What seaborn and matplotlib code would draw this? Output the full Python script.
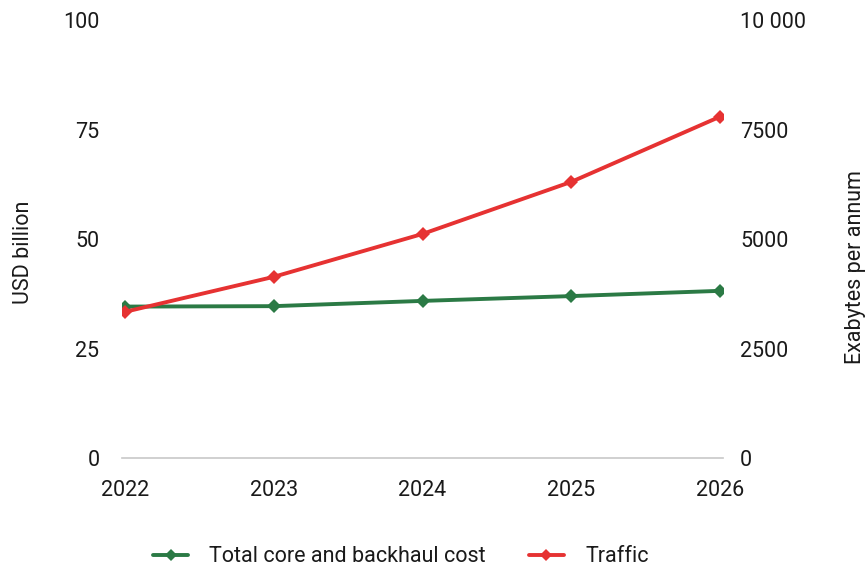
import matplotlib
matplotlib.use("Agg")
import matplotlib.pyplot as plt
import seaborn as sns
import pandas as pd
from matplotlib.ticker import FuncFormatter
from matplotlib.lines import Line2D

years = [2022, 2023, 2024, 2025, 2026]
cost_usd_bn = [34.6, 34.7, 35.9, 37.0, 38.2]
traffic_eb = [3340, 4140, 5120, 6310, 7800]
left_ticks = [0, 25, 50, 75, 100]
right_ticks = [0, 2500, 5000, 7500, 10000]

green = "#2b7a45"
red = "#e63232"

sns.set_theme(style="white")
plt.rcParams["font.family"] = ["Roboto", "DejaVu Sans"]
plt.rcParams["text.color"] = "#1a1a1a"

fs = 15.5
fig = plt.figure(figsize=(8.68, 5.67), dpi=100)
ax = fig.add_axes([121.7 / 868, 1 - 458 / 567, (723.3 - 121.7) / 868, (458 - 20.4) / 567])
ax2 = ax.twinx()

df = pd.DataFrame({"year": years, "cost": cost_usd_bn, "traffic": traffic_eb})

sns.lineplot(data=df, x="year", y="cost", ax=ax, color=green, linewidth=2.8,
             marker="D", markersize=7.5, markeredgewidth=0, zorder=3)
sns.lineplot(data=df, x="year", y="traffic", ax=ax2, color=red, linewidth=2.8,
             marker="D", markersize=7.5, markeredgewidth=0, zorder=3)

ax.set_xlim(years[0] - 0.022, years[-1] + 0.022)
ax.set_ylim(0, 100)
ax2.set_ylim(0, 10000)
ax.set_xticks(years)
ax.set_xticklabels([str(y) for y in years])
ax.set_yticks(left_ticks)
ax2.set_yticks(right_ticks)
ax2.yaxis.set_major_formatter(FuncFormatter(
    lambda v, p: f"{v:,.0f}".replace(",", " ") if v >= 10000 else f"{v:.0f}"))

for a in (ax, ax2):
    for s in a.spines.values():
        s.set_visible(False)
    a.grid(False)
    a.set_xlabel("")
ax.spines["bottom"].set_visible(True)
ax.spines["bottom"].set_color("#c8c8c8")
ax.spines["bottom"].set_linewidth(1.2)

ax.tick_params(axis="x", length=0, pad=16, labelsize=fs, colors="#1a1a1a")
ax.tick_params(axis="y", length=0, pad=16, labelsize=fs, colors="#1a1a1a")
ax2.tick_params(axis="y", length=0, pad=12, labelsize=fs, colors="#1a1a1a")

ax.set_ylabel("USD billion", fontsize=fs, color="#1a1a1a")
ax2.set_ylabel("Exabytes per annum", fontsize=fs, color="#1a1a1a", rotation=90)
ax.yaxis.set_label_coords(-0.145, 0.471)
ax2.yaxis.set_label_coords(1.203, 0.436)

handles = [
    Line2D([0], [0], color=green, linewidth=2.8, marker="D", markersize=6, markeredgewidth=0),
    Line2D([0], [0], color=red, linewidth=2.8, marker="D", markersize=6, markeredgewidth=0),
]
fig.legend(handles, ["Total core and backhaul cost", "Traffic"], loc="center",
           bbox_to_anchor=(401 / 868, 1 - 557 / 567), ncol=2, frameon=False,
           fontsize=fs, handlelength=1.6, handletextpad=1.0, columnspacing=2.0)

fig.savefig("out.png", dpi=100)
